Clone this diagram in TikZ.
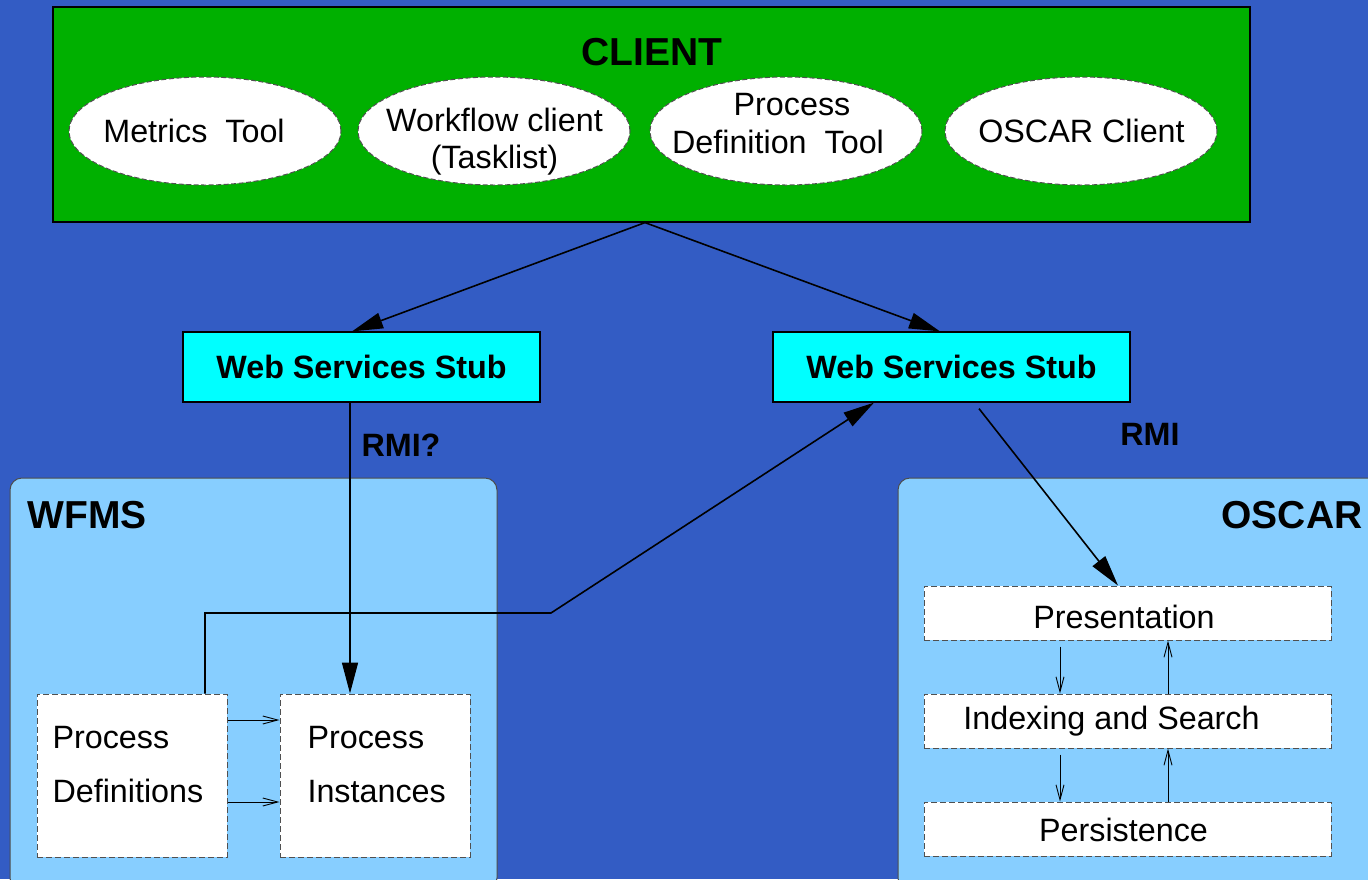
\documentclass[tikz,border=0pt]{standalone}
\usepackage{fontspec}
\setmainfont{Liberation Sans}
\usetikzlibrary{arrows.meta,shapes.geometric,calc}
\definecolor{bgblue}{RGB}{51,92,196}
\definecolor{clgreen}{RGB}{0,176,0}
\definecolor{ltblue}{RGB}{135,206,255}
\definecolor{stubcyan}{RGB}{0,255,255}
\definecolor{dashgray}{RGB}{80,80,80}
\tikzset{
  reg/.style={font=\fontsize{32.3}{38}\selectfont},
  bld/.style={font=\fontsize{32.3}{38}\selectfont\bfseries},
  big/.style={font=\fontsize{39}{45}\selectfont\bfseries},
  oval/.style={ellipse, draw=dashgray, dash pattern=on 5pt off 2.5pt, line width=1pt, fill=white,
     minimum width=272pt, minimum height=108pt, inner sep=0pt},
  ovaltext/.style={reg, align=center, inner sep=0pt},
  stub/.style={draw=black, line width=1.2pt, fill=stubcyan, minimum width=357pt, minimum height=70pt, inner sep=0pt, bld},
  region/.style={draw=black!70, line width=1pt, fill=ltblue, rounded corners=12pt, minimum width=487pt, minimum height=412pt, inner sep=0pt},
  layer/.style={draw=dashgray, dash pattern=on 6pt off 3pt, line width=1pt, fill=white, inner sep=0pt},
  bigarrow/.style={line width=1.6pt, -{Triangle[length=31pt,width=16pt]}},
  smallarrow/.style={line width=0.9pt, -{Straight Barb[length=15pt,width=8pt]}},
}
\begin{document}
\begin{tikzpicture}[x=1pt,y=-1pt]
\useasboundingbox (0,0) rectangle (1368,879);
\clip (0,0) rectangle (1368,879);
\fill[bgblue] (0,0) rectangle (1368,879);
% CLIENT
\node[draw=black, line width=1.2pt, fill=clgreen, minimum width=1197pt, minimum height=215pt, inner sep=0pt] (client) at (651.5,114.5) {};
\node[big] (clientlbl) at (652,52) {CLIENT};
\node[oval] (metrics) at (205,131) {};
\node[ovaltext] (metricst) at (194,131) {Metrics\ \ Tool};
\node[oval] (wfclient) at (494,131) {};
\node[ovaltext, font=\fontsize{32.3}{37}\selectfont] (wfclientt) at (494.5,142) {Workflow client\\(Tasklist)};
\node[oval] (pdtool) at (786,131) {};
\node[ovaltext, font=\fontsize{32.3}{38}\selectfont] (pdtoolt) at (778,124) {\hspace*{28pt}Process\\Definition\ \ Tool};
\node[oval] (oscarclient) at (1081,131) {};
\node[ovaltext] (oscarclientt) at (1081.5,131) {OSCAR Client};
% stubs
\node[stub] (lstub) at (361.5,367) {Web Services Stub};
\node[stub] (rstub) at (951.5,367) {Web Services Stub};
% regions
\node[region] (wfms) at (253.5,684) {};
\node[big, anchor=west] (wfmslbl) at (24,515) {WFMS};
\node[region, minimum width=482pt] (oscar) at (1139,684) {};
\node[big, anchor=east] (oscarlbl) at (1366,515) {OSCAR};
% WFMS inner boxes
\node[layer, minimum width=190pt, minimum height=163pt] (pd) at (132,775.5) {};
\node[reg, anchor=west, align=left, font=\fontsize{32.3}{54}\selectfont] (pdtext) at (49,765) {Process\\Definitions};
\node[layer, minimum width=190pt, minimum height=163pt] (pi) at (375,775.5) {};
\node[reg, anchor=west, align=left, font=\fontsize{32.3}{54}\selectfont] (pitext) at (304,765) {Process\\Instances};
% OSCAR layers
\node[layer, minimum width=407pt, minimum height=54pt] (pres) at (1127.5,613) {};
\node[reg] (prest) at (1124,617) {Presentation};
\node[layer, minimum width=407pt, minimum height=54pt] (idx) at (1127.5,721) {};
\node[reg] (idxt) at (1111.5,721) {Indexing and Search};
\node[layer, minimum width=407pt, minimum height=54pt] (pers) at (1127.5,829) {};
\node[reg] (perst) at (1123.5,830) {Persistence};
% labels
\node[bld] (rmiq) at (401,445) {RMI?};
\node[bld] (rmi) at (1150,434) {RMI};
% connectors
\coordinate (cbot) at ($(client.south)+(-6.5,0)$);
\draw[bigarrow] (cbot) -- ($(lstub.north)+(-9.5,0)$);
\draw[bigarrow] (cbot) -- ($(rstub.north)+(-11.5,0)$);
\draw[bigarrow] ($(lstub.south)+(-11.5,0)$) -- ($(pi.north)+(-25,0)$);
\coordinate (bend) at (551,613);
\draw[bigarrow] ($(pd.north)+(73,0)$) |- (bend) -- ($(rstub.south)+(-77.5,0)$);
\draw[bigarrow] ($(rstub.south)+(27.5,6)$) -- ($(pres.north)+(-9.5,0)$);
\draw[smallarrow] ($(pd.east)+(0,-55.5)$) -- ($(pi.west)+(0,-55.5)$);
\draw[smallarrow] ($(pd.east)+(0,26.5)$) -- ($(pi.west)+(0,26.5)$);
\draw[smallarrow] ($(pres.south)+(-67.5,6)$) -- ($(idx.north)+(-67.5,0)$);
\draw[smallarrow] ($(idx.north)+(40.5,0)$) -- ($(pres.south)+(40.5,0)$);
\draw[smallarrow] ($(idx.south)+(-67.5,6)$) -- ($(pers.north)+(-67.5,0)$);
\draw[smallarrow] ($(pers.north)+(40.5,0)$) -- ($(idx.south)+(40.5,0)$);
\end{tikzpicture}
\end{document}
